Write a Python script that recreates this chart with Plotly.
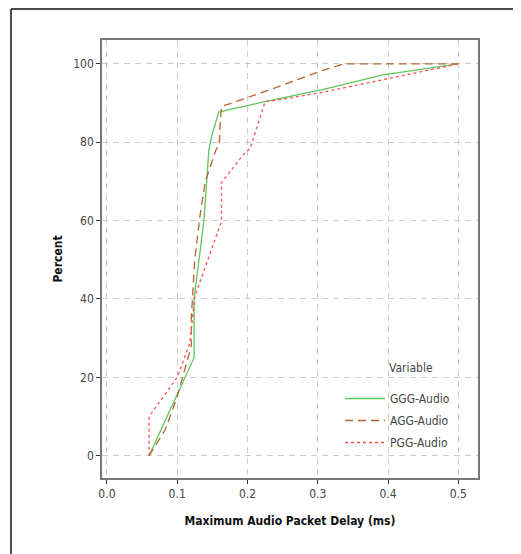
import plotly.graph_objects as go

# Data (delay in ms, cumulative percent)
ggg_x = [0.06, 0.124, 0.124, 0.138, 0.142, 0.145, 0.149, 0.159, 0.223, 0.308, 0.393, 0.47, 0.5]
ggg_y = [0, 25, 40, 60, 70, 78, 81.5, 87.7, 90.3, 93.5, 97.2, 99.3, 100]

agg_x = [0.06, 0.083, 0.1, 0.12, 0.12, 0.125, 0.132, 0.14, 0.155, 0.16, 0.161, 0.163, 0.235, 0.303, 0.337, 0.5]
agg_y = [0, 6.6, 15, 28, 35, 50, 60.7, 70, 78, 79.4, 84.5, 89.1, 93.6, 98.1, 100, 100]

pgg_x = [0.06, 0.06, 0.1, 0.118, 0.125, 0.163, 0.163, 0.194, 0.204, 0.225, 0.3, 0.413, 0.5]
pgg_y = [0, 10, 20, 28.7, 40.6, 59.8, 69.7, 76.8, 78.5, 90.3, 92.5, 96.8, 100]

x_ticks = [0.0, 0.1, 0.2, 0.3, 0.4, 0.5]
x_labels = ["0.0", "0.1", "0.2", "0.3", "0.4", "0.5"]
y_ticks = [0, 20, 40, 60, 80, 100]

# page has an 8px body margin; figure coordinates are page coordinates minus 8
OFF = 8
W, H = 521 - OFF, 554 - OFF
L, R, T, B = 102 - OFF, 478 - OFF, 40 - OFF, 478 - OFF

fig = go.Figure()
fig.add_trace(go.Scatter(x=ggg_x, y=ggg_y, mode="lines", name="GGG-Audio",
                         legendgroup="g1",
                         line=dict(color="#5cc85c", width=1.3, dash="solid")))
fig.add_trace(go.Scatter(x=agg_x, y=agg_y, mode="lines", name="AGG-Audio",
                         legendgroup="g2",
                         line=dict(color="#b8622e", width=1.3, dash="8px,5px")))
fig.add_trace(go.Scatter(x=pgg_x, y=pgg_y, mode="lines", name="PGG-Audio",
                         legendgroup="g3",
                         line=dict(color="#ff5050", width=1.3, dash="3px,3px")))

font_family = "DejaVu Sans Condensed, Liberation Sans Narrow, Arial Narrow, Liberation Sans, sans-serif"

def px_x(p):
    return (p - OFF - L) / (R - L)

def px_y(p):
    return (B - (p - OFF)) / (B - T)

fig.update_layout(
    width=W, height=H,
    margin=dict(l=L, r=W - R, t=T, b=H - B),
    paper_bgcolor="white", plot_bgcolor="white",
    font=dict(family=font_family, size=12, color="#333333"),
    showlegend=True,
    legend=dict(
        x=px_x(340), y=px_y(384), xanchor="left", yanchor="top",
        bgcolor="rgba(255,255,255,0)", borderwidth=0,
        font=dict(size=12, color="#444444"),
        traceorder="grouped", tracegroupgap=3, itemwidth=40,
    ),
    annotations=[
        dict(text="Variable", xref="paper", yref="paper",
             x=px_x(387), y=px_y(368), xanchor="left", yanchor="middle",
             showarrow=False, font=dict(size=12, color="#444444")),
    ],
    xaxis=dict(
        range=[-0.007, 0.528], tickvals=x_ticks, ticktext=x_labels,
        showgrid=True, gridcolor="#cccccc", griddash="6px,5px", gridwidth=1,
        zeroline=False, showline=True, linecolor="#777777", linewidth=1.5, mirror=True,
        ticks="outside", ticklen=4, tickcolor="#333333",
        tickfont=dict(size=12, color="#444444"),
        title=dict(text="<b>Maximum Audio Packet Delay (ms)</b>", standoff=16,
                   font=dict(size=12, color="#111111")),
    ),
    yaxis=dict(
        range=[-5.7, 106.1], tickvals=y_ticks,
        showgrid=True, gridcolor="#cccccc", griddash="6px,5px", gridwidth=1,
        zeroline=False, showline=True, linecolor="#777777", linewidth=1.5, mirror=True,
        ticks="outside", ticklen=4, tickcolor="#333333",
        tickfont=dict(size=12, color="#444444"),
        title=dict(text="<b>Percent</b>", standoff=8,
                   font=dict(size=12, color="#111111")),
    ),
    shapes=[
        dict(type="line", xref="paper", yref="paper",
             x0=px_x(11), x1=px_x(11), y0=px_y(9), y1=px_y(570),
             line=dict(color="#111111", width=1.5)),
        dict(type="line", xref="paper", yref="paper",
             x0=px_x(11), x1=px_x(540), y0=px_y(9), y1=px_y(9),
             line=dict(color="#111111", width=1.5)),
    ],
)

fig.write_html("out.html")
